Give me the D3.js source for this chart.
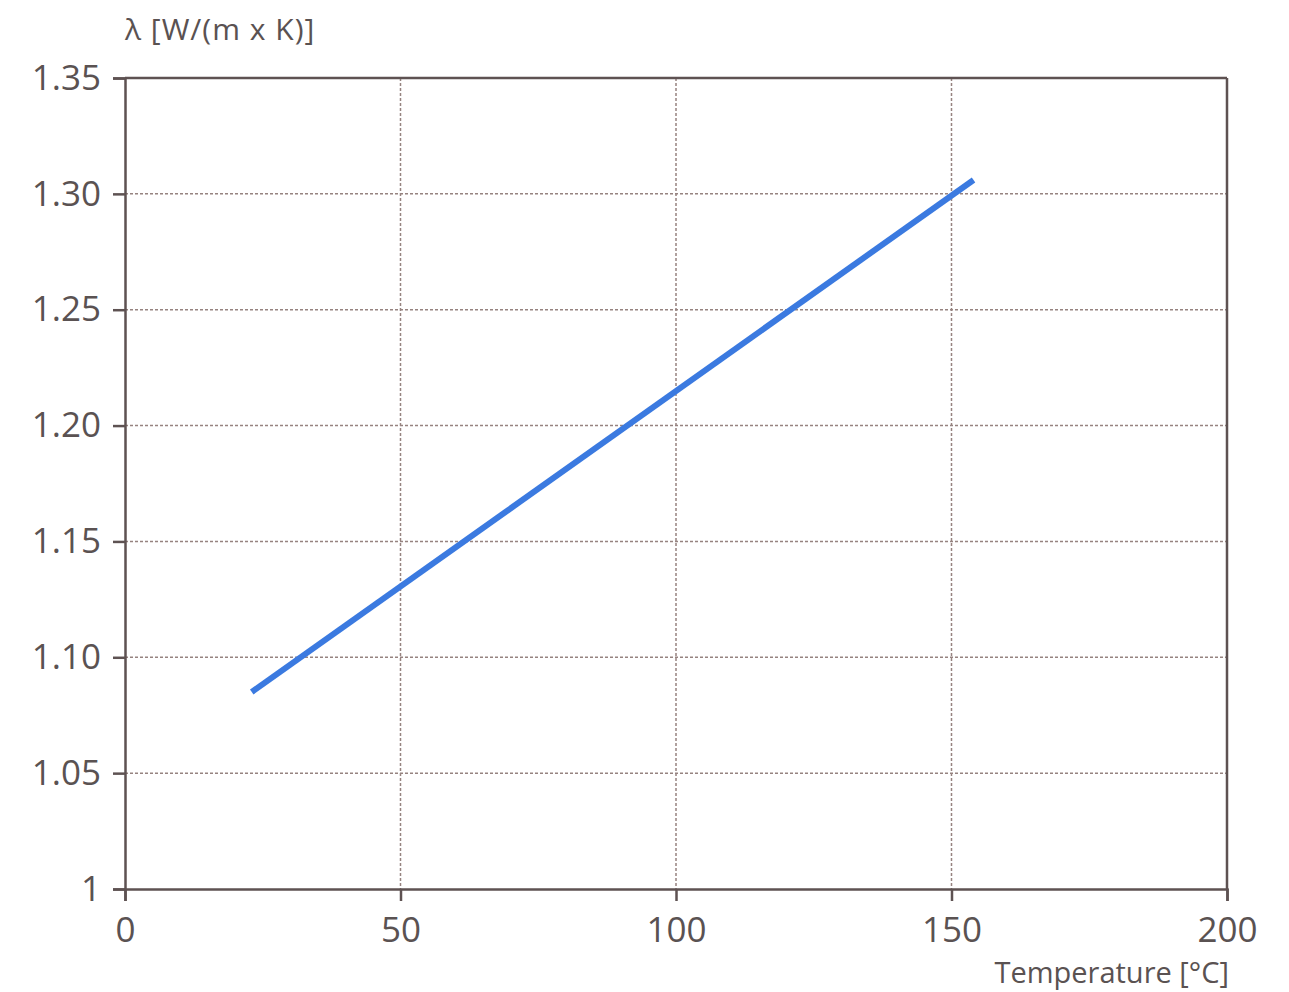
<!DOCTYPE html>
<html>
<head>
<meta charset="utf-8">
<script src="https://cdn.jsdelivr.net/npm/d3@7"></script>
<style>
  body { margin: 0; background: #fff; }
  text { font-family: "Open Sans", "Noto Sans", sans-serif; fill: #5a5252; }
</style>
</head>
<body>
<div id="chart-container"></div>
<script>
// data
const temperature = [23, 154];
const lambda = [1.085, 1.306];
const xTicks = [0, 50, 100, 150, 200];
const yTicks = [1, 1.05, 1.10, 1.15, 1.20, 1.25, 1.30, 1.35];
const yTickLabels = ["1", "1.05", "1.10", "1.15", "1.20", "1.25", "1.30", "1.35"];

const margin = { top: 78, right: 62, bottom: 103, left: 125 };
const width = 1289 - margin.left - margin.right;
const height = 992 - margin.top - margin.bottom;

const svg = d3.select("#chart-container")
  .append("svg")
  .attr("width", 1289)
  .attr("height", 992)
  .append("g")
  .attr("transform", `translate(${margin.left},${margin.top})`);

const x = d3.scaleLinear().domain([0, 200]).range([0, width]);
const y = d3.scaleLinear().domain([1, 1.35]).range([height, 0]);

// grid
svg.append("g")
  .selectAll("line.h")
  .data(yTicks.slice(1, -1))
  .join("line")
  .attr("x1", 0).attr("x2", width)
  .attr("y1", d => y(d)).attr("y2", d => y(d))
  .attr("stroke", "#968380")
  .attr("stroke-width", 1.5)
  .attr("stroke-dasharray", "3,2");

svg.append("g")
  .selectAll("line.v")
  .data(xTicks.slice(1, -1))
  .join("line")
  .attr("x1", d => x(d)).attr("x2", d => x(d))
  .attr("y1", 0).attr("y2", height)
  .attr("stroke", "#968380")
  .attr("stroke-width", 1.5)
  .attr("stroke-dasharray", "3,2");

// frame (top + right)
svg.append("line")
  .attr("x1", 0).attr("x2", width).attr("y1", 0).attr("y2", 0)
  .attr("stroke", "#5e5252").attr("stroke-width", 2.5);
svg.append("line")
  .attr("x1", width).attr("x2", width).attr("y1", 0).attr("y2", height)
  .attr("stroke", "#5e5252").attr("stroke-width", 2.5);

// axes
const xAxis = svg.append("g")
  .attr("transform", `translate(0,${height})`)
  .call(d3.axisBottom(x).tickValues(xTicks).tickSize(12).tickPadding(16).tickFormat(d3.format("d")));

const yAxis = svg.append("g")
  .call(d3.axisLeft(y).tickValues(yTicks).tickSize(12).tickPadding(12)
    .tickFormat((d, i) => yTickLabels[i]));

[xAxis, yAxis].forEach(a => {
  a.select(".domain").attr("stroke", "#5e5252").attr("stroke-width", 2.5);
  a.selectAll(".tick line").attr("stroke", "#5e5252").attr("stroke-width", 2.5);
  a.selectAll(".tick text")
    .attr("fill", "#5a5252")
    .style("font-size", "35px")
    .style("font-family", "'Open Sans', 'Noto Sans', sans-serif");
});

// the line
const line = d3.line()
  .x((d, i) => x(temperature[i]))
  .y(d => y(d));

svg.append("path")
  .datum(lambda)
  .attr("fill", "none")
  .attr("stroke", "#3b7ae0")
  .attr("stroke-width", 6)
  .attr("d", line);

// axis titles
svg.append("text")
  .attr("x", 0)
  .attr("y", -38)
  .style("font-size", "30px")
  .style("letter-spacing", "1px")
  .text("λ [W/(m x K)]");

svg.append("text")
  .attr("x", width + 2)
  .attr("y", height + 94)
  .attr("text-anchor", "end")
  .style("font-size", "29px")
  .text("Temperature [°C]");
</script>
</body>
</html>
